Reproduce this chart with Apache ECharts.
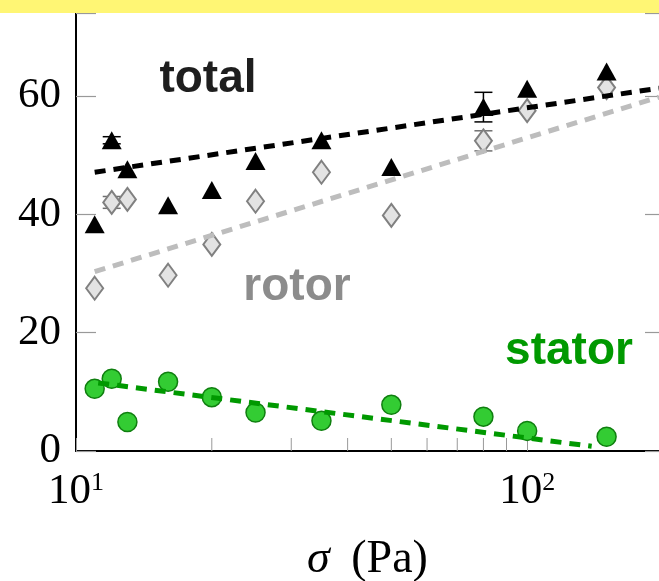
<!DOCTYPE html>
<html>
<head>
<meta charset="utf-8">
<script src="https://cdn.jsdelivr.net/npm/echarts@6/dist/echarts.min.js"></script>
<style>html,body{margin:0;padding:0;background:#fff}#c{width:659px;height:581px}</style>
</head>
<body>
<div id="c"></div>
<script>
// ---- data ----
const sigma = [11, 12, 13, 16, 20, 25, 35, 50, 80, 100, 150];
const totalVals = [38.3, 52.5, 47.6, 41.5, 44.1, 49.0, 52.5, 48.0, 58.1, 61.2, 64.1];
const rotorVals = [27.5, 42.0, 42.5, 29.7, 34.9, 42.2, 47.1, 39.8, 52.4, 57.5, 61.4];
const statorVals = [10.5, 12.2, 4.9, 11.7, 9.1, 6.5, 5.1, 7.8, 5.8, 3.4, 2.4];
// error bars: [sigma, value, half-width]
const totalErr = [[12, 52.5, 0.6], [80, 58.1, 2.5]];
const rotorErr = [[12, 42.0, 1.0], [80, 52.4, 1.7]];
// fit lines: endpoints [sigma, value]
const totalFit = [[11, 47.1], [196, 61.3]];
const rotorFit = [[11, 30.3], [196, 59.8]];
const statorFit = [[11.2, 11.5], [139, 0.8]];
// axis
const xMin = 10, xMax = 196;
const yMin = 0, yMax = 74, yStep = 20;
const minorTickVals = [20, 30, 40, 50, 60, 70, 80, 90];
const labels = {total: 'total', rotor: 'rotor', stator: 'stator'};

const chart = echarts.init(document.getElementById('c'), null, {renderer: 'canvas'});
const serif = 'Liberation Serif';
const sans = 'Liberation Sans';
const zip = (xs, ys) => xs.map((x, i) => [x, ys[i]]);

function errRender(color) {
  return function (params, api) {
    const x = api.value(0), v = api.value(1), e = api.value(2);
    const top = api.coord([x, v + e]);
    const bot = api.coord([x, v - e]);
    const hw = 9;
    const st = {stroke: color, lineWidth: 1.5};
    return {type: 'group', children: [
      {type: 'line', shape: {x1: top[0], y1: top[1], x2: bot[0], y2: bot[1]}, style: st},
      {type: 'line', shape: {x1: top[0] - hw, y1: top[1], x2: top[0] + hw, y2: top[1]}, style: st},
      {type: 'line', shape: {x1: bot[0] - hw, y1: bot[1], x2: bot[0] + hw, y2: bot[1]}, style: st}
    ]};
  };
}

const dash = [11, 8];
const option = {
  animation: false,
  backgroundColor: '#ffffff',
  grid: {left: 76, right: 0, top: 13, bottom: 130, containLabel: false, outerBoundsMode: 'none'},
  xAxis: {
    type: 'log', logBase: 10, min: xMin, max: xMax,
    splitLine: {show: false},
    axisLine: {show: true, lineStyle: {color: '#000', width: 2}},
    axisTick: {show: true, inside: true, length: 13, lineStyle: {color: '#999', width: 1}},
    axisLabel: {
      margin: 19, showMinLabel: true, showMaxLabel: false,
      formatter: function (v) {
        const e = Math.log10(v);
        if (Math.abs(e - Math.round(e)) > 1e-6) return '';
        return '{b|10}{s|' + Math.round(e) + '}';
      },
      rich: {
        b: {fontFamily: serif, fontSize: 43, color: '#000', lineHeight: 43},
        s: {fontFamily: serif, fontSize: 26, color: '#000', verticalAlign: 'top', lineHeight: 26}
      }
    },
    name: '{i|σ} (Pa)', nameLocation: 'middle', nameGap: 86,
    nameTextStyle: {
      fontFamily: serif, fontSize: 46, color: '#000',
      rich: {i: {fontFamily: serif, fontStyle: 'italic', fontSize: 46, color: '#000', padding: [0, 10, 0, 0]}}
    }
  },
  yAxis: [{
    type: 'value', min: yMin, max: yMax, interval: yStep,
    splitLine: {show: false},
    axisLine: {show: true, lineStyle: {color: '#000', width: 2}},
    axisTick: {show: true, inside: true, length: 20, lineStyle: {color: '#999', width: 1.2}},
    axisLabel: {
      margin: 15, fontFamily: serif, fontSize: 43, color: '#000',
      formatter: v => (v % yStep === 0 ? String(v) : '')
    }
  }, {
    type: 'value', position: 'right', min: yMin, max: yMax, interval: yStep,
    splitLine: {show: false},
    axisLine: {show: false},
    axisTick: {show: true, inside: true, length: 14, lineStyle: {color: '#999', width: 1.2}},
    axisLabel: {show: false}
  }],
  series: [
    {
      type: 'custom', z: 1, silent: true, clip: false,
      data: minorTickVals.map(v => [v, 0]),
      renderItem: function (params, api) {
        const p = api.coord([api.value(0), 0]);
        return {type: 'line', shape: {x1: p[0], y1: p[1], x2: p[0], y2: p[1] - 13},
          style: {stroke: '#999', lineWidth: 1}};
      }
    },
    {type: 'custom', z: 2, data: rotorErr, renderItem: errRender('#707070')},
    {type: 'custom', z: 2, data: totalErr, renderItem: errRender('#000')},
    {
      type: 'scatter', z: 3, data: zip(sigma, rotorVals), symbol: 'diamond', symbolSize: [17, 23],
      itemStyle: {color: '#e3e3e3', borderColor: '#808080', borderWidth: 2, opacity: 1}
    },
    {
      type: 'scatter', z: 3, data: zip(sigma, statorVals), symbol: 'circle', symbolSize: 19,
      itemStyle: {color: '#33cc33', borderColor: '#0f7f0f', borderWidth: 1.5, opacity: 1}
    },
    {
      type: 'scatter', z: 4, data: zip(sigma, totalVals), symbol: 'triangle', symbolSize: [20, 18],
      itemStyle: {color: '#000', opacity: 1}
    },
    {type: 'line', z: 5, data: rotorFit, symbol: 'none', lineStyle: {color: '#bdbdbd', width: 5, type: dash}},
    {type: 'line', z: 5, data: totalFit, symbol: 'none', lineStyle: {color: '#000', width: 5, type: dash}},
    {type: 'line', z: 5, data: statorFit, symbol: 'none', lineStyle: {color: '#009900', width: 5, type: dash}}
  ],
  graphic: [
    {type: 'rect', left: 0, top: 0, shape: {width: 659, height: 13}, style: {fill: '#fff674'}, z: 100},
    {type: 'text', x: 208, y: 79, z: 50, style: {text: labels.total, fontFamily: sans, fontWeight: 'bold', fontSize: 46, fill: '#1e1e1e', align: 'center', verticalAlign: 'middle'}},
    {type: 'text', x: 297, y: 287, z: 50, style: {text: labels.rotor, fontFamily: sans, fontWeight: 'bold', fontSize: 46, fill: '#8c8c8c', align: 'center', verticalAlign: 'middle'}},
    {type: 'text', x: 569, y: 351, z: 50, style: {text: labels.stator, fontFamily: sans, fontWeight: 'bold', fontSize: 46, fill: '#009900', align: 'center', verticalAlign: 'middle'}}
  ]
};
chart.setOption(option);
</script>
</body>
</html>
